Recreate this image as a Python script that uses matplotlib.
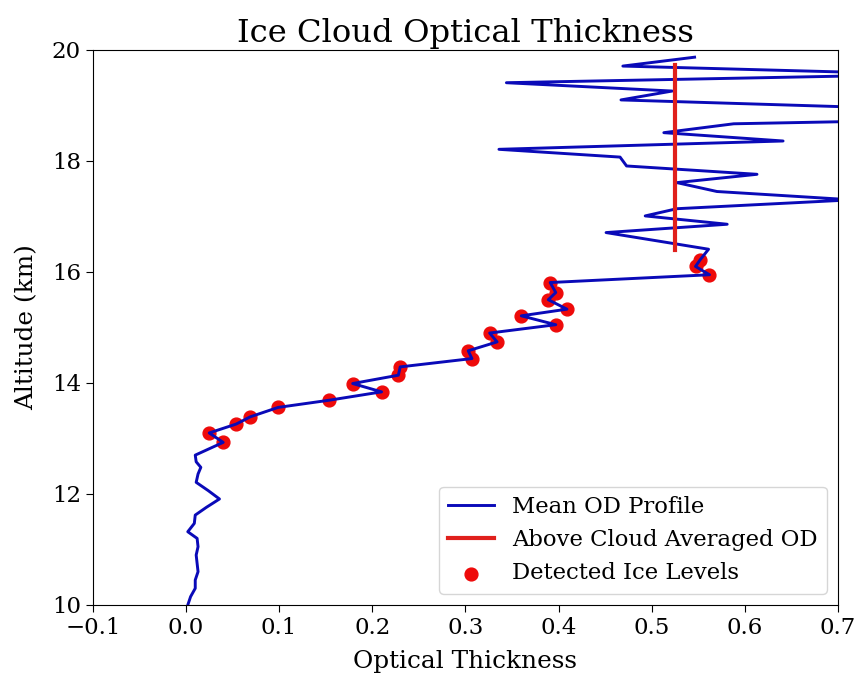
import matplotlib
matplotlib.use("Agg")
import matplotlib.pyplot as plt

plt.rcParams['font.family'] = ['DejaVu Serif']

# Mean optical-depth profile (altitude in km, optical thickness)
profile_alt = [9.85, 10.00, 10.15, 10.30, 10.45, 10.60, 10.75, 10.90, 11.05, 11.20,
               11.32, 11.47, 11.62, 11.76, 11.91, 12.06, 12.21, 12.36, 12.48, 12.58,
               12.70, 12.93, 13.10, 13.26, 13.39, 13.56, 13.69, 13.84, 13.99, 14.14,
               14.29, 14.44, 14.58, 14.74, 14.90, 15.05, 15.21, 15.33, 15.50, 15.63,
               15.81, 15.95, 16.10, 16.22, 16.41, 16.71, 16.86, 17.01, 17.14, 17.30,
               17.45, 17.61, 17.76, 17.91, 18.07, 18.21, 18.36, 18.51, 18.67, 18.82,
               18.97, 19.10, 19.26, 19.41, 19.56, 19.71, 19.87]
profile_od = [0.000, 0.002, 0.005, 0.010, 0.010, 0.013, 0.012, 0.011, 0.013, 0.012,
              0.002, 0.009, 0.010, 0.022, 0.036, 0.024, 0.011, 0.013, 0.016, 0.011,
              0.010, 0.040, 0.025, 0.054, 0.069, 0.099, 0.154, 0.210, 0.179, 0.228,
              0.230, 0.307, 0.303, 0.334, 0.326, 0.397, 0.360, 0.409, 0.389, 0.397,
              0.391, 0.562, 0.547, 0.552, 0.561, 0.451, 0.581, 0.493, 0.527, 0.715,
              0.570, 0.527, 0.613, 0.473, 0.466, 0.336, 0.641, 0.513, 0.588, 1.050,
              0.720, 0.467, 0.522, 0.344, 0.800, 0.469, 0.546]

# Levels flagged as ice cloud
ice_alt = [12.93, 13.10, 13.26, 13.39, 13.56, 13.69, 13.84, 13.99, 14.14, 14.29,
           14.44, 14.58, 14.74, 14.90, 15.05, 15.21, 15.33, 15.50, 15.63, 15.81,
           15.95, 16.10, 16.22]
ice_od = [0.040, 0.025, 0.054, 0.069, 0.099, 0.154, 0.210, 0.179, 0.228, 0.230,
          0.307, 0.303, 0.334, 0.326, 0.397, 0.360, 0.409, 0.389, 0.397, 0.391,
          0.562, 0.547, 0.552]

# Averaged optical depth above the cloud top
above_od = 0.525
above_alt = [16.39, 19.73]

fig = plt.figure(figsize=(8.59, 6.79), dpi=100)
ax = fig.add_axes([0.108, 0.109, 0.8676, 0.8174])

ax.plot(profile_od, profile_alt, color='#0a0ab8', lw=2.1, zorder=2,
        label='Mean OD Profile')
ax.plot([above_od, above_od], above_alt, color='#e0201c', lw=3.0, zorder=2.1,
        label='Above Cloud Averaged OD')
ax.scatter(ice_od, ice_alt, color='#ee0a0a', s=85, zorder=1.5,
           label='Detected Ice Levels')

ax.set_xlim(-0.1, 0.7)
ax.set_ylim(10, 20)
ax.set_xticks([-0.1, 0.0, 0.1, 0.2, 0.3, 0.4, 0.5, 0.6, 0.7])
ax.set_yticks([10, 12, 14, 16, 18, 20])
ax.tick_params(labelsize=16.5, length=5)

ax.set_title('Ice Cloud Optical Thickness', fontsize=23.2, pad=6)
ax.set_xlabel('Optical Thickness', fontsize=17.8, labelpad=8)
ax.set_ylabel('Altitude (km)', fontsize=17.8, labelpad=10)

ax.legend(loc='lower right', fontsize=16.4)

fig.savefig('out.png', dpi=100)
